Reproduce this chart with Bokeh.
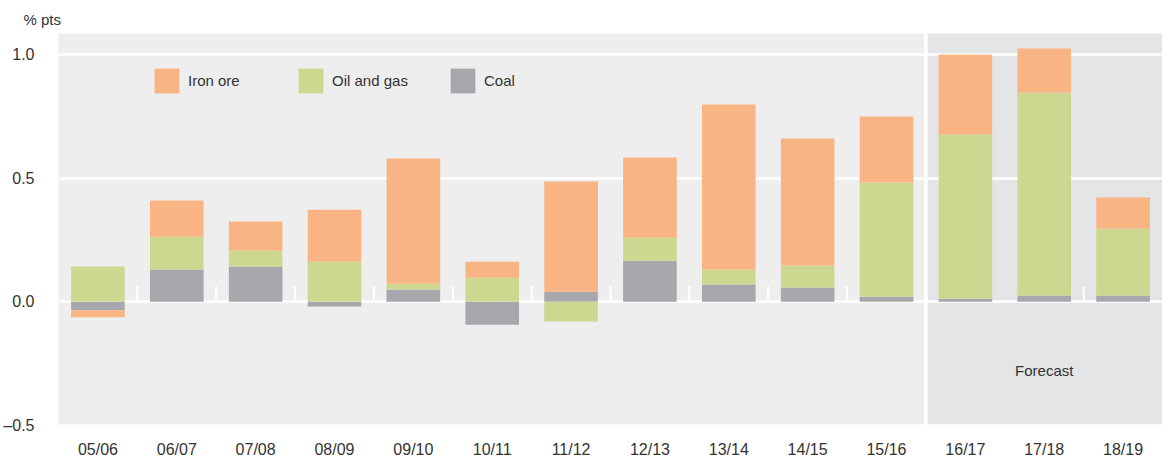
from bokeh.plotting import figure
from bokeh.models import (FactorRange, Range1d, BoxAnnotation, Span, Label, Legend,
                          LegendItem, FixedTicker, ColumnDataSource, NumeralTickFormatter)
from bokeh.embed import file_html
from bokeh.resources import INLINE

years = ["05/06", "06/07", "07/08", "08/09", "09/10", "10/11", "11/12", "12/13",
         "13/14", "14/15", "15/16", "16/17", "17/18", "18/19"]
iron_ore = [-0.028, 0.146, 0.117, 0.210, 0.506, 0.065, 0.446, 0.324, 0.668, 0.514,
            0.267, 0.324, 0.178, 0.125]
oil_gas = [0.142, 0.133, 0.065, 0.162, 0.024, 0.097, -0.080, 0.093, 0.061, 0.089,
           0.462, 0.664, 0.822, 0.272]
coal = [-0.035, 0.130, 0.142, -0.020, 0.049, -0.093, 0.040, 0.166, 0.069, 0.057,
        0.020, 0.012, 0.024, 0.024]
series_names = ["Iron ore", "Oil and gas", "Coal"]
forecast_start = "16/17"
y_ticks = [-0.5, 0.0, 0.5, 1.0]
y_labels = {-0.5: "\u20130.5", 0.0: "0.0", 0.5: "0.5", 1.0: "1.0"}

FONT = "Liberation Sans"
TXT = "#333333"
colors = {"Iron ore": "#f9b483", "Oil and gas": "#ced790", "Coal": "#a7a8ab"}

n = len(years)
fi = years.index(forecast_start)

p = figure(x_range=FactorRange(*years, range_padding=0),
           y_range=Range1d(-0.505, 1.085),
           frame_width=1104, frame_height=393,
           min_border_left=51, min_border_top=33, min_border_right=0, min_border_bottom=10,
           output_backend="svg", toolbar_location=None,
           background_fill_color="#eeeeee", border_fill_color="white",
           outline_line_color=None)

p.title.text = "% pts"
p.title.align = "left"
p.title.offset = -35
p.title.standoff = 11
p.title.text_font = FONT
p.title.text_font_size = "15px"
p.title.text_font_style = "normal"
p.title.text_color = TXT

# forecast shading (put before grid)
box = BoxAnnotation(left=fi, fill_color="#e4e5e7", fill_alpha=1, line_color=None,
                    level="underlay")
p.center.insert(0, box)

p.xgrid.grid_line_color = None
p.ygrid.ticker = FixedTicker(ticks=y_ticks)
p.ygrid.grid_line_color = "white"
p.ygrid.grid_line_width = 2.5

p.add_layout(Span(location=fi, dimension="height", line_color="white",
                  line_width=3.5, level="underlay"))

# stacked bars: positives and negatives stacked separately, coal nearest zero
pos = [0.0] * n
neg = [0.0] * n
renderers = {}
for name, vals in [("Coal", coal), ("Oil and gas", oil_gas), ("Iron ore", iron_ore)]:
    bottoms, tops = [], []
    for i, v in enumerate(vals):
        if v >= 0:
            bottoms.append(pos[i]); tops.append(pos[i] + v); pos[i] += v
        else:
            tops.append(neg[i]); bottoms.append(neg[i] + v); neg[i] += v
    src = ColumnDataSource(dict(x=years, bottom=bottoms, top=tops))
    renderers[name] = p.vbar(x="x", bottom="bottom", top="top", width=0.68, source=src,
                             fill_color=colors[name], line_color=None)

# small white ticks at category boundaries on the zero line
bounds = [b for b in range(1, n) if b not in (fi, fi + 1)]
p.segment(x0=bounds, y0=[0] * len(bounds), x1=bounds, y1=[0.062] * len(bounds),
          line_color="white", line_width=2)

# axes
for ax in (p.xaxis[0], p.yaxis[0]):
    ax.axis_line_color = None
    ax.major_tick_line_color = None
    ax.minor_tick_line_color = None
    ax.major_label_text_font = FONT
    ax.major_label_text_font_size = "16px"
    ax.major_label_text_color = TXT
p.yaxis.ticker = FixedTicker(ticks=y_ticks)
p.yaxis.formatter = NumeralTickFormatter(format="0.0")
p.yaxis.major_label_overrides = y_labels
p.yaxis.major_label_standoff = 18
p.xaxis.major_label_standoff = 8

# legends (three separate blocks)
for name, xloc in zip(series_names, [93, 237, 389]):
    leg = Legend(items=[LegendItem(label=name, renderers=[renderers[name]])],
                 location=(xloc, 330), orientation="horizontal",
                 glyph_width=31, glyph_height=31, label_standoff=6,
                 padding=0, margin=0, spacing=0, border_line_color=None,
                 background_fill_alpha=0, label_text_font=FONT,
                 label_text_font_size="15px", label_text_color=TXT)
    p.add_layout(leg, "center")

p.add_layout(Label(x=(fi + n) / 2, y=-0.28, text="Forecast", text_align="center",
                   text_baseline="middle", text_font=FONT, text_font_size="15px",
                   text_color=TXT))

open("out.html", "w").write(file_html(p, INLINE))
